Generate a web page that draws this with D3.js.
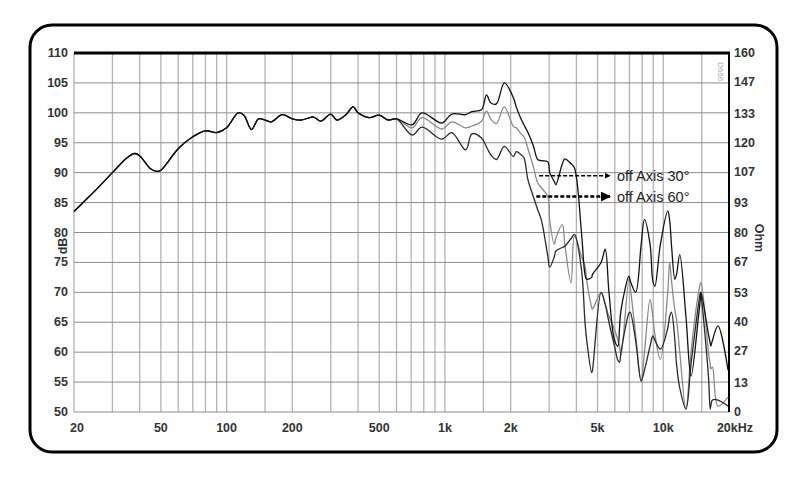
<!DOCTYPE html>
<html><head><meta charset="utf-8">
<script src="https://cdn.jsdelivr.net/npm/d3@7"></script>
<style>body{margin:0;background:#fff}text{font-family:Arial,"Liberation Sans",sans-serif}</style>
</head><body><svg id="c" width="795" height="479"></svg>
<script>
// common response below ~700 Hz
const commonF = [20,22,25,30,35,38,40,45,48,50,60,70,80,90,100,113,120,130,140,150,160,180,200,220,250,270,300,320,350,380,400,450,500,550,600];
const commonDb = [83.5,85,87,90,92.5,93.2,92.8,90.6,90.2,90.4,94,96,97,96.7,97.5,100,99.6,97.2,99,98.8,98.5,99.7,99,98.8,99.3,98.6,99.8,98.8,99.6,101,100,99.2,99.6,98.8,99];

const splitF = [708,785,968,1075,1245,1330,1470,1550,1620,1720,1870,2060,2120,2230,2300,2400,2540,2660,2760,2960,3020,3170,3220,3450,3540,3780,3920,4220,4380,4460,4700,4740,5190,5420,5640,5980,6200,6300,6400,6960,7050,7470,7920,8200,8700,8950,9150,9700,10480,10700,10900,11300,11500,11900,12700,13400,14500,14800,14900,16100,16400,16500,16800,17800,19800];
const onAxis = [98,100,98.3,99.8,99.7,100.2,100.5,103,101.7,101.5,105,102.5,101,99,98,96.7,94.5,92.2,92,91.8,90,88.5,88,91.5,92.3,91.5,90.8,80,73,72.2,72.5,73,75,77.2,70,62,61,64,67,72.7,72,70,78,82.2,78,72,71,78,83.6,82,78,72.2,73,76.3,66,56,66,69,70,63,61.5,61,62,64.4,57];
const offAxis30 = [97.5,99.2,97.3,98.5,97.5,97.8,98.6,100.3,99,98.2,101,97.7,97.5,96.5,96,94,91,88.3,87.5,86,82,78,79,81.3,78,71.6,79.4,76,74.4,72,67.5,67.2,70,68,66,63.8,62,61,59.4,72.2,71,63,55,60,68.8,66,63,58.8,70,75,72,67,65.5,60,50.5,60,70,71.5,71.6,60,58,57.2,57.5,51,52.5];
const offAxis60 = [96.3,97.6,95.6,96.7,93.8,96.5,95.8,94.3,93,92.2,94.4,92.7,93.5,93,92.5,88.8,86,83.8,82.2,76,74.2,76,76.9,77.5,77.7,79,79.7,73.8,65,62,56.6,57,70,68,65,61,58.6,58.3,60,66.5,66.7,62,55.2,57,61,62.7,62,60.5,64,66,66.7,62,58,54,50.5,58,68,70,69.5,56,50.5,51,52,52,51];

const dbTicks = [50,55,60,65,70,75,80,85,90,95,100,105,110];
const ohmTicks = [0,13,27,40,53,67,80,93,107,120,133,147,160];
const freqLabels = [[20,"20"],[50,"50"],[100,"100"],[200,"200"],[500,"500"],[1000,"1k"],[2000,"2k"],[5000,"5k"],[10000,"10k"],[20000,"20kHz"]];
const gridF = [20,30,40,50,60,70,80,90,100,150,200,300,400,500,600,700,800,900,1000,1500,2000,3000,4000,5000,6000,7000,8000,9000,10000,15000,20000];

const svg = d3.select("#c");
const pL = 74, pR = 729, pT = 53, pB = 412;
const x = d3.scaleLog().domain([20,20000]).range([pL,pR]);
const y = d3.scaleLinear().domain([50,110]).range([pB,pT]);
const yo = d3.scaleLinear().domain([0,160]).range([pB,pT]);

svg.append("rect").attr("x",30).attr("y",25).attr("width",747).attr("height",427)
  .attr("rx",22).attr("fill","none").attr("stroke","#000").attr("stroke-width",3);

svg.append("g").selectAll("line").data(gridF).join("line")
  .attr("x1",d=>x(d)).attr("x2",d=>x(d)).attr("y1",pT).attr("y2",pB)
  .attr("stroke","#b4b4b4").attr("stroke-width",1.3);
svg.append("g").selectAll("line").data(dbTicks).join("line")
  .attr("x1",pL).attr("x2",pR).attr("y1",d=>y(d)).attr("y2",d=>y(d))
  .attr("stroke","#8c8c8c").attr("stroke-width",1);

svg.append("line").attr("x1",pL).attr("x2",pR+1).attr("y1",pT).attr("y2",pT).attr("stroke","#000").attr("stroke-width",3);
svg.append("line").attr("x1",pR).attr("x2",pR).attr("y1",pT).attr("y2",pB).attr("stroke","#000").attr("stroke-width",2);

function style(sel){return sel.style("font-size","12.5px").style("font-weight","bold").style("fill","#333");}
style(svg.append("g").selectAll("text").data(dbTicks).join("text")
  .attr("x",68).attr("y",d=>y(d)+4).attr("text-anchor","end").text(d=>d));
style(svg.append("g").selectAll("text").data(ohmTicks).join("text")
  .attr("x",734).attr("y",d=>yo(d)+4).text(d=>d));
style(svg.append("g").selectAll("text").data(freqLabels).join("text")
  .attr("x",(d,i)=>x(d[0])+(i==0?3:i==freqLabels.length-1?6:0)).attr("y",432).attr("text-anchor","middle").text(d=>d[1]));
style(svg.append("text").attr("transform","translate(67,246) rotate(-90)").attr("text-anchor","middle").text("dB"));
style(svg.append("text").attr("transform","translate(755,238) rotate(90)").attr("text-anchor","middle").text("Ohm"));
svg.append("text").attr("transform","translate(718,62) rotate(90)").style("font-size","8px").style("fill","#aaa").text("D666");

const line = d3.line().x(d=>x(d[0])).y(d=>y(d[1])).curve(d3.curveCatmullRom.alpha(0.5));
const series = [
  {v:offAxis30,c:"#8a8a8a"},
  {v:offAxis60,c:"#2a2a2a"},
  {v:onAxis,c:"#111"}
];
series.forEach(s=>{
  const pts = commonF.map((f,i)=>[f,commonDb[i]]).concat(splitF.map((f,i)=>[f,s.v[i]]));
  svg.append("path").attr("d",line(pts)).attr("fill","none").attr("stroke",s.c).attr("stroke-width",1.3);
});

// annotations
const ann = [{x1:2700,yv:89.5,t:"off Axis 30°",w:1.5},{x1:2620,yv:86,t:"off Axis 60°",w:2.5}];
const defs = svg.append("defs");
defs.append("marker").attr("id","ah").attr("viewBox","0 0 10 10").attr("refX",9).attr("refY",5)
  .attr("markerWidth",4).attr("markerHeight",4).attr("orient","auto")
  .append("path").attr("d","M0,0L10,5L0,10z").attr("fill","#000");
ann.forEach(a=>{
  svg.append("line").attr("x1",x(a.x1)).attr("x2",610).attr("y1",y(a.yv)).attr("y2",y(a.yv))
    .attr("stroke","#000").attr("stroke-width",a.w).attr("stroke-dasharray","4,2").attr("marker-end","url(#ah)");
  svg.append("text").attr("x",617).attr("y",y(a.yv)+5).style("font-size","14.5px").style("fill","#222").text(a.t);
});
</script></body></html>
